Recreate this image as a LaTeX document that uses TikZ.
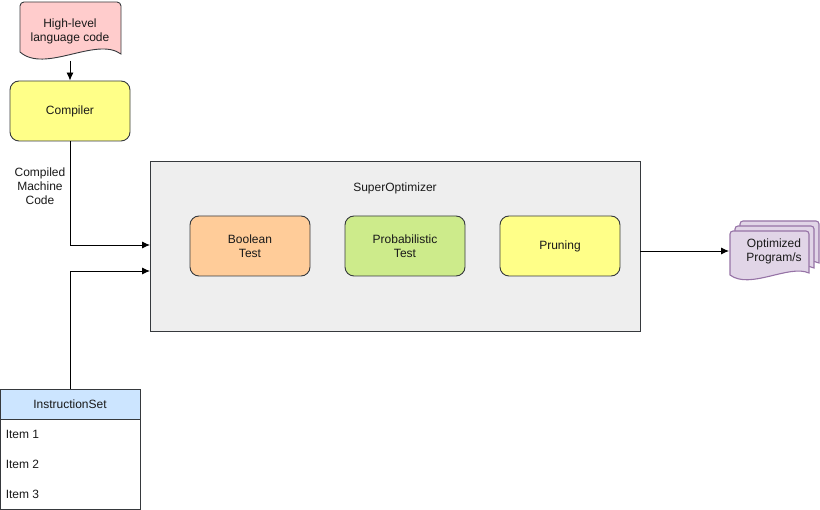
\documentclass[tikz,border=0pt]{standalone}
\usepackage{fontspec}
\setmainfont{Liberation Sans}
\usepackage{xcolor}
\usepackage{tikz}
\usetikzlibrary{arrows,arrows.meta}
\definecolor{edgegray}{HTML}{36393D}
\definecolor{pinkfill}{HTML}{FFCCCC}
\definecolor{yellowfill}{HTML}{FFFF88}
\definecolor{panelfill}{HTML}{EEEEEE}
\definecolor{orangefill}{HTML}{FFCC99}
\definecolor{greenfill}{HTML}{CDEB8B}
\definecolor{purplefill}{HTML}{E1D5E7}
\definecolor{purpleedge}{HTML}{9673A6}
\definecolor{bluefill}{HTML}{CCE5FF}
\tikzstyle{every node}=[font=\fontsize{12}{14}\selectfont, text=black!90]
\tikzstyle{procbox}=[draw=edgegray, rounded corners=9, minimum width=120, minimum height=60, align=center]
\tikzstyle{docpage}=[draw=purpleedge, fill=purplefill, line width=1.1pt]

\begin{document}
\begin{tikzpicture}[>={Latex[length=8pt, width=7pt]}, x=1pt, y=-1pt, line width=0.9pt]
                \useasboundingbox (0, 0) rectangle (820, 510);
                % source document
                \draw [draw=edgegray, fill=pinkfill] (20, 52) [rounded corners=4] -- (20, 2) -- (121, 2) [sharp corners] -- (121, 54) .. controls (96, 36) and (45, 74) .. (20, 52) -- cycle;
                \node [align=center] (source) at (70, 31) {High-level\\language code};
                \coordinate (sourcebottom) at (70, 61);
                \node [procbox, fill=yellowfill] (compiler) at (70, 111) {Compiler};
                \draw [->] (sourcebottom) -- (compiler.north);
                % superoptimizer panel
                \node [draw=edgegray, fill=panelfill, minimum width=490, minimum height=170] (superopt) at (395, 246) {};
                \node (superlabel) at (395, 188) {SuperOptimizer};
                \node [procbox, fill=orangefill] (boolean) at (250, 246) {Boolean\\Test};
                \node [procbox, fill=greenfill] (probtest) at (405, 246) {Probabilistic\\Test};
                \node [procbox, fill=yellowfill] (pruning) at (560, 246) {Pruning};
                \coordinate (inone) at (150, 245);
                \coordinate (intwo) at (150, 271);
                \draw [->] (compiler.south) |- (inone);
                \node [align=center] (compiled) at (40, 186) {Compiled\\Machine\\Code};
                % instruction set
                \node [draw=edgegray, fill=white, minimum width=140, minimum height=120] (instrbox) at (70, 449) {};
                \node [draw=edgegray, fill=bluefill, minimum width=140, minimum height=30] (instr) at (70, 404) {InstructionSet};
                \node [anchor=west] (itemone) at (2, 434) {Item 1};
                \node [anchor=west] (itemtwo) at (2, 464) {Item 2};
                \node [anchor=west] (itemthree) at (2, 494) {Item 3};
                \draw [->] (instr.north) |- (intwo);
                % optimized programs
                \draw [docpage] (740, 265) [rounded corners=3] -- (740, 221) -- (819, 221) [sharp corners] -- (819, 263) .. controls (799, 254) and (760, 280) .. (740, 265) -- cycle;
                \draw [docpage] (735, 270) [rounded corners=3] -- (735, 226) -- (814, 226) [sharp corners] -- (814, 268) .. controls (794, 259) and (755, 285) .. (735, 270) -- cycle;
                \draw [docpage] (730, 275) [rounded corners=3] -- (730, 231) -- (809, 231) [sharp corners] -- (809, 273) .. controls (789, 264) and (750, 290) .. (730, 275) -- cycle;
                \node [align=center] (optimized) at (774, 251) {Optimized\\Program/s};
                \coordinate (outone) at (640, 251);
                \coordinate (outdoc) at (729, 251);
                \draw [->] (outone) -- (outdoc);
            \end{tikzpicture}
\end{document}
